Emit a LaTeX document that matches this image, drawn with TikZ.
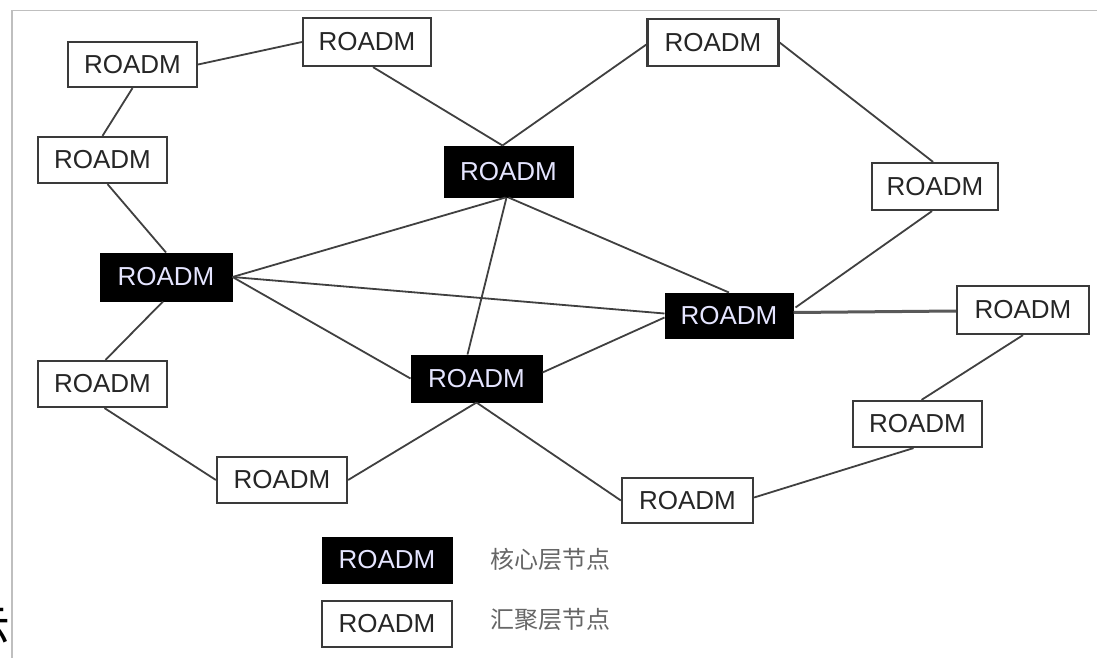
\documentclass[tikz,border=0pt]{standalone}
\usepackage{fontspec}
\setmainfont{Liberation Sans}
\newfontfamily\cjk{Noto Sans CJK SC}
\usetikzlibrary{calc}
\definecolor{edgecol}{HTML}{404040}
\definecolor{boxcol}{HTML}{3A3A3A}
\tikzset{
  wnode/.style={rectangle, draw=boxcol, line width=2.2pt, fill=white, inner sep=0pt,
    text=black!85, font=\fontsize{26}{26}\selectfont},
  bnode/.style={rectangle, draw=black, line width=1pt, fill=black, inner sep=0pt,
    text=white!90!blue, font=\fontsize{26}{26}\selectfont},
  link/.style={draw=edgecol, line width=1.8pt},
  legtext/.style={anchor=west, inner sep=0pt, text=black!60, font=\cjk\fontsize{24}{24}\selectfont},
}
\begin{document}
\begin{tikzpicture}[x=1pt,y=-1pt]
\useasboundingbox (0,0) rectangle (1097,658);
\fill[white] (0,0) rectangle (1097,658);
% frame
\draw[black!25, line width=1.5pt] (12,658) -- (12,10.5) -- (1097,10.5);
% cut-off glyph at lower left
\node[inner sep=0pt, font=\cjk\fontsize{46}{46}\selectfont] (frag) at (-12,628) {示};

% white (aggregation) nodes
\node[wnode, minimum width=129pt, minimum height=45pt] (W1) at (132.5,64.5) {ROADM};
\node[wnode, minimum width=128pt, minimum height=48pt] (W2) at (367,42) {ROADM};
\node[wnode, minimum width=131pt, minimum height=47pt] (W3) at (713,42.5) {ROADM};
\node[wnode, minimum width=129pt, minimum height=46pt] (W4) at (102.5,160) {ROADM};
\node[wnode, minimum width=126pt, minimum height=47pt] (W5) at (935,186.5) {ROADM};
\node[wnode, minimum width=132pt, minimum height=48pt] (W6) at (1023,310) {ROADM};
\node[wnode, minimum width=129pt, minimum height=46pt] (W7) at (102.5,384) {ROADM};
\node[wnode, minimum width=129pt, minimum height=46pt] (W8) at (917.5,424) {ROADM};
\node[wnode, minimum width=130pt, minimum height=46pt] (W9) at (282,480) {ROADM};
\node[wnode, minimum width=131pt, minimum height=45pt] (W10) at (687.5,500.5) {ROADM};

% black (core) nodes
\node[bnode, minimum width=129pt, minimum height=51pt] (B1) at (508.5,171.5) {ROADM};
\node[bnode, minimum width=132pt, minimum height=48pt] (B2) at (166,277) {ROADM};
\node[bnode, minimum width=128pt, minimum height=45pt] (B3) at (729,315.5) {ROADM};
\node[bnode, minimum width=131pt, minimum height=47pt] (B4) at (476.5,378.5) {ROADM};

% links
\draw[link] (W1.east) -- (W2.west);
\draw[link] (W1.south) -- (W4.north);
\draw[link] ($(W4.south)+(5,0)$) -- (B2.north);
\draw[link] ($(B2.south)+(-3,0)$) -- ($(W7.north)+(3,0)$);
\draw[link] ($(W7.south)+(2,0)$) -- (W9.west);
\draw[link] (W9.east) -- (B4.south);
\draw[link] (B4.south) -- (W10.west);
\draw[link] ($(W10.east)+(0,-3)$) -- ($(W8.south)+(-4,0)$);
\draw[link] ($(W8.north)+(4,0)$) -- (W6.south);
\draw[draw=black!65, line width=3pt] ($(B3.east)+(0,-3)$) -- ($(W6.west)+(0,1)$);
\draw[link] ($(B3.east)+(2,-8)$) -- ($(W5.south)+(-3,0)$);
\draw[link] (W3.east) -- ($(W5.north)+(-2,0)$);
\draw[link] ($(W3.west)+(0,2)$) -- ($(B1.north)+(-6,0)$);
\draw[link] ($(W2.south)+(6,0)$) -- ($(B1.north)+(-6,0)$);
\draw[link] (B2.east) -- ($(B1.south)+(-3,0)$);
\draw[link] (B2.east) -- ($(B3.west)+(0,-2)$);
\draw[link] (B2.east) -- (B4.west);
\draw[link] (B1.south) -- (B3.north);
\draw[link] ($(B1.south)+(-2,0)$) -- ($(B4.north)+(-9,0)$);
\draw[link] ($(B4.east)+(0,-6)$) -- ($(B3.west)+(0,2)$);

% legend
\node[bnode, minimum width=130pt, minimum height=46pt] (LB) at (387,560) {ROADM};
\node[wnode, minimum width=130pt, minimum height=46pt] (LW) at (387,624) {ROADM};
\node[legtext] (LBt) at (490,559) {核心层节点};
\node[legtext] (LWt) at (490,619) {汇聚层节点};
\end{tikzpicture}
\end{document}
